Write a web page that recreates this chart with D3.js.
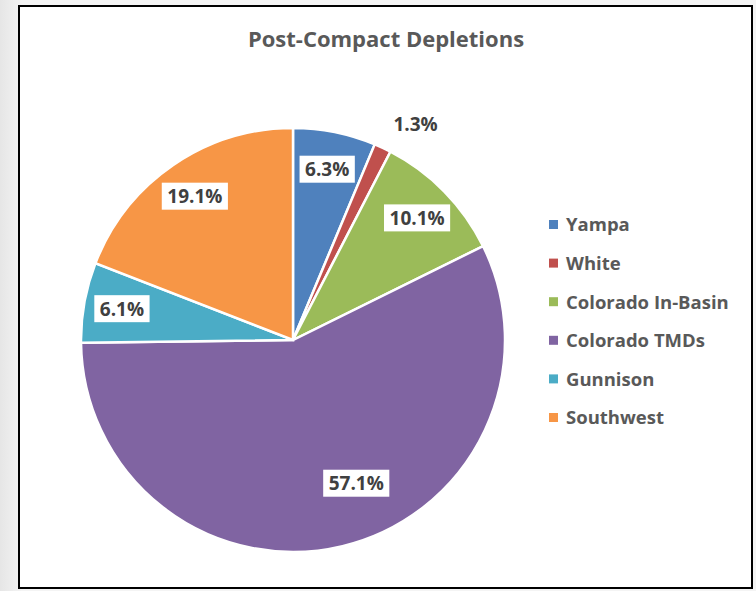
<!doctype html>
<html>
<head>
<meta charset="utf-8">
<title>Post-Compact Depletions</title>
<script src="https://d3js.org/d3.v7.min.js"></script>
<style>
  body { margin: 0; background: #f3f3f3; }
  svg { display: block; }
  text { font-family: "Open Sans", "DejaVu Sans", sans-serif; font-weight: bold; }
</style>
</head>
<body>
<svg width="756" height="591"></svg>
<script>
// chart data
var categories = ["Yampa", "White", "Colorado In-Basin", "Colorado TMDs", "Gunnison", "Southwest"];
var shares = [6.3, 1.3, 10.1, 57.1, 6.1, 19.1];
var colors = ["#4f81bd", "#c0504d", "#9bbb59", "#8064a2", "#4bacc6", "#f79646"];

var svg = d3.select("svg");

// light backdrop + framed chart area
var bg = svg.append("defs").append("linearGradient").attr("id", "bg");
bg.append("stop").attr("offset", "0").attr("stop-color", "#e6e6e6");
bg.append("stop").attr("offset", "0.03").attr("stop-color", "#f4f4f4");
bg.append("stop").attr("offset", "1").attr("stop-color", "#f4f4f4");
svg.append("rect").attr("width", 756).attr("height", 591).attr("fill", "url(#bg)");
svg.append("rect")
    .attr("x", 19).attr("y", 6).attr("width", 733).attr("height", 582)
    .attr("fill", "#fff").attr("stroke", "#000").attr("stroke-width", 2);

svg.append("text")
    .attr("x", 386).attr("y", 47)
    .attr("text-anchor", "middle")
    .attr("fill", "#595959")
    .style("font-size", "22px")
    .text("Post-Compact Depletions");

var cx = 293, cy = 340, r = 212;

var pie = d3.pie().sort(null).value(function(d) { return d; });
var arcs = pie(shares);
var arc = d3.arc().innerRadius(0).outerRadius(r);

var g = svg.append("g").attr("transform", "translate(" + cx + "," + cy + ")");

g.selectAll("path")
    .data(arcs)
    .enter().append("path")
    .attr("d", arc)
    .attr("fill", function(d, i) { return colors[i]; })
    .attr("stroke", "#fff")
    .attr("stroke-width", 2.5);

// rough "best fit" placement like Excel
function labelPos(d) {
    var t = 0.5, lr = r * 0.82;
    if (d.value < 2) lr = r * 1.12;
    if (d.value > 50) { t = 0.45; lr = r * 0.74; }
    var a = d.startAngle + (d.endAngle - d.startAngle) * t;
    return [Math.sin(a) * lr, -Math.cos(a) * lr];
}

var labels = g.selectAll(".lbl")
    .data(arcs)
    .enter().append("g")
    .attr("class", "lbl")
    .attr("transform", function(d) { return "translate(" + labelPos(d) + ")"; });

labels.each(function(d) {
    var sel = d3.select(this);
    var outside = d.value < 2;
    var t = sel.append("text")
        .attr("text-anchor", outside ? "start" : "middle")
        .attr("dy", "0.35em")
        .attr("fill", "#404040")
        .style("font-size", "19px")
        .text(d3.format(".1f")(d.value) + "%");
    if (!outside) {
        var b = t.node().getBBox();
        sel.insert("rect", "text")
            .attr("x", b.x - 5.5).attr("y", b.y - 0.5)
            .attr("width", b.width + 11).attr("height", b.height + 1)
            .attr("fill", "#fff");
    }
});

// legend
var legend = svg.append("g").attr("transform", "translate(549,225)");
var row = legend.selectAll("g")
    .data(categories)
    .enter().append("g")
    .attr("transform", function(d, i) { return "translate(0," + (i * 38.6) + ")"; });
row.append("rect")
    .attr("x", 0).attr("y", -5).attr("width", 9).attr("height", 9)
    .attr("fill", function(d, i) { return colors[i]; });
row.append("text")
    .attr("x", 17).attr("dy", "0.35em")
    .attr("fill", "#595959")
    .style("font-size", "18.5px")
    .text(function(d) { return d; });
</script>
</body>
</html>
